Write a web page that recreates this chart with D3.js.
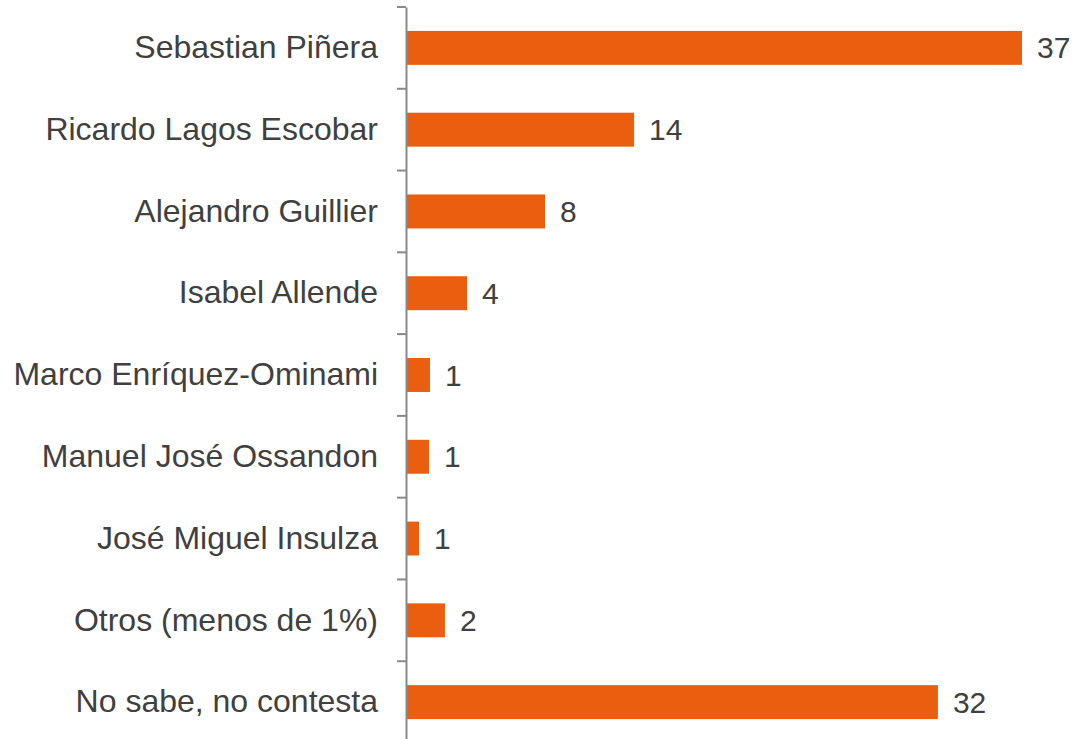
<!DOCTYPE html>
<html>
<head>
<meta charset="utf-8">
<script src="https://cdn.jsdelivr.net/npm/d3@7"></script>
<style>
  body { margin: 0; background: #fff; }
  svg { display: block; }
</style>
</head>
<body>
<svg class="chart" width="1074" height="739"></svg>
<script>
// categories top to bottom
var categories = ["Sebastian Piñera", "Ricardo Lagos Escobar", "Alejandro Guillier",
                  "Isabel Allende", "Marco Enríquez-Ominami", "Manuel José Ossandon",
                  "José Miguel Insulza", "Otros (menos de 1%)", "No sabe, no contesta"];
// bar lengths (percent)
var values = [37, 13.7, 8.35, 3.67, 1.44, 1.38, 0.78, 2.34, 31.95];
// the printed numbers next to each bar
var valueLabels = ["37", "14", "8", "4", "1", "1", "1", "2", "32"];

var width = 1074, height = 739;
var axisX = 406;
var font = "'Liberation Sans', Arial, sans-serif";

var svg = d3.select(".chart");

var x = d3.scaleLinear().domain([0, 37]).range([axisX, 1022]);
var y = d3.scaleBand().domain(categories).range([7, 743])
          .paddingInner(0.585).paddingOuter(0.2925);
var step = y.step();
var top0 = 7;

// bars
svg.append("g").selectAll("rect")
   .data(categories)
   .enter().append("rect")
   .attr("x", x(0))
   .attr("y", function(d){ return y(d); })
   .attr("width", function(d, i){ return x(values[i]) - x(0); })
   .attr("height", y.bandwidth())
   .attr("fill", "#ea5e10");

// value labels
svg.append("g").selectAll("text")
   .data(categories)
   .enter().append("text")
   .attr("x", function(d, i){ return x(values[i]) + 15; })
   .attr("y", function(d){ return y(d) + y.bandwidth() / 2; })
   .attr("dy", "0.35em")
   .attr("font-family", font)
   .attr("font-size", 30)
   .attr("fill", "#404040")
   .text(function(d, i){ return valueLabels[i]; });

// left axis with category labels
var axis = svg.append("g")
   .attr("transform", "translate(" + axisX + ",0)")
   .call(d3.axisLeft(y).tickSize(0).tickPadding(28));
axis.select(".domain").attr("stroke", "#898989").attr("stroke-width", 2);
axis.selectAll("text")
   .attr("font-family", font)
   .attr("font-size", 32)
   .attr("fill", "#404040");

// tick marks at the band boundaries
svg.append("g").selectAll("line")
   .data(d3.range(categories.length + 1))
   .enter().append("line")
   .attr("x1", axisX - 9).attr("x2", axisX)
   .attr("y1", function(i){ return top0 + i * step; })
   .attr("y2", function(i){ return top0 + i * step; })
   .attr("stroke", "#898989")
   .attr("stroke-width", 2);
</script>
</body>
</html>
